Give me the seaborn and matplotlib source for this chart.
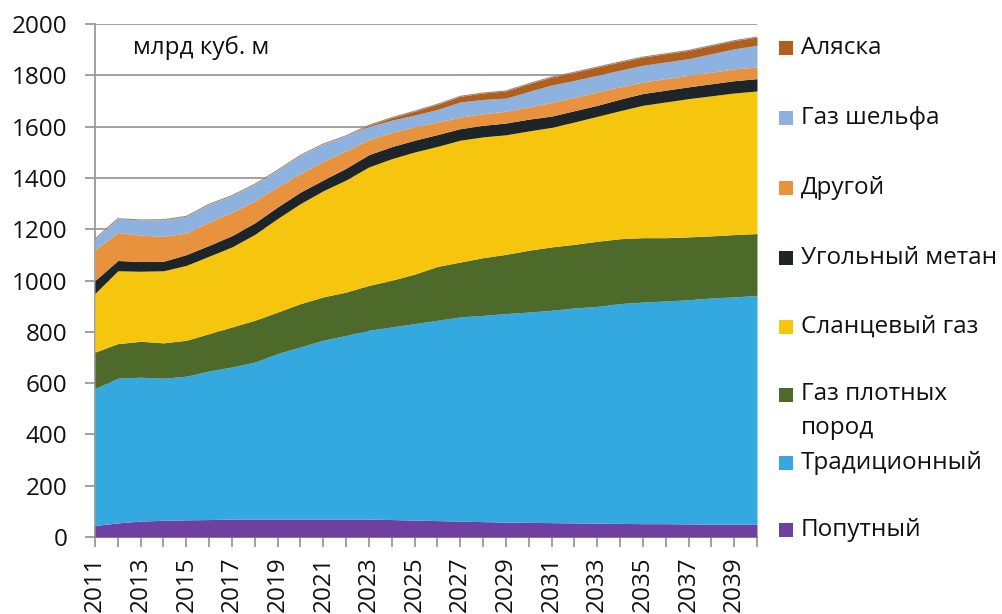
import numpy as np
import pandas as pd
import matplotlib
matplotlib.use("Agg")
import matplotlib.pyplot as plt
import seaborn as sns
from matplotlib.patches import Rectangle

# ---------------- data (млрд куб. м) ----------------
years = list(range(2011, 2041))

poputny = [45, 55, 62, 65, 67, 68, 70, 70, 70, 70, 70, 70, 70, 68, 66,
           64, 62, 60, 58, 57, 56, 55, 54, 53, 52, 52, 51, 50, 50, 50]
traditsionny = [534, 564, 561, 554, 560, 579, 593, 612, 645, 671, 697, 716, 736, 751, 766,
                781, 796, 804, 813, 820, 828, 838, 845, 857, 864, 868, 874, 882, 886, 892]
plotnye = [142, 135, 140, 138, 140, 146, 156, 163, 162, 169, 169, 169, 175, 182, 193,
           210, 214, 225, 231, 241, 247, 248, 254, 253, 251, 247, 245, 242, 243, 241]
slantsevy = [229, 284, 273, 281, 292, 302, 312, 335, 365, 390, 414, 437, 462, 474, 476,
             468, 475, 471, 466, 465, 466, 477, 487, 499, 516, 529, 539, 546, 552, 556]
ugolny = [50, 40, 38, 37, 42, 42, 44, 45, 45, 45, 42, 46, 48, 47, 46,
          46, 45, 45, 46, 46, 44, 44, 43, 45, 46, 46, 46, 47, 48, 48]
drugoy = [120, 109, 103, 97, 84, 91, 91, 85, 78, 72, 72, 68, 58, 55, 52,
          48, 45, 45, 46, 47, 53, 52, 52, 48, 45, 45, 45, 45, 46, 45]
shelf = [42, 54, 59, 65, 65, 69, 65, 65, 65, 71, 68, 58, 52, 48, 46,
         50, 59, 56, 51, 61, 68, 66, 65, 65, 65, 65, 65, 72, 78, 85]
alaska = [0, 0, 0, 0, 0, 0, 0, 0, 0, 0, 0, 0, 4, 10, 15,
          20, 22, 25, 28, 30, 31, 32, 32, 32, 32, 32, 32, 32, 32, 32]

series_names = ["Попутный", "Традиционный", "Газ плотных\nпород", "Сланцевый газ",
                "Угольный метан", "Другой", "Газ шельфа", "Аляска"]
series_colors = ["#7040A0", "#33A9E0", "#4E6A2A", "#F6C60F",
                 "#1E2528", "#E8923D", "#8EB2E0", "#B0601C"]
unit_label = "млрд куб. м"

df = pd.DataFrame(dict(zip(series_names,
                           [poputny, traditsionny, plotnye, slantsevy,
                            ugolny, drugoy, shelf, alaska])), index=years)

# ---------------- style ----------------
sns.set_style("white")
plt.rcParams['font.family'] = ['Open Sans', 'DejaVu Sans']
FS = 17.5
TXT = "#111111"
W, H = 1003, 614

fig = plt.figure(figsize=(W / 100, H / 100), dpi=100)
ax = fig.add_axes([95 / W, 1 - 537 / H, (757 - 95) / W, (537 - 24) / H])

ax.stackplot(df.index, df.T.values, colors=series_colors, linewidth=0, zorder=3)
ax.plot(df.index, df.sum(axis=1).values, color="#9a8a7a", lw=0.8, zorder=4)

ax.set_xlim(2011, 2040)
ax.set_ylim(0, 2000)
ax.set_yticks(range(0, 2001, 200))
ax.yaxis.grid(True, color="#9a9a9a", lw=1.3, zorder=0)
ax.xaxis.grid(False)
ax.set_axisbelow(True)

ax.set_xticks(years)
ax.set_xticklabels([str(y) if (y - 2011) % 2 == 0 else "" for y in years],
                   rotation=90, fontsize=FS, color=TXT, fontweight=500)
ax.tick_params(axis="x", length=7, width=1.3, color="#9a9a9a", pad=7, bottom=True)
ax.tick_params(axis="y", length=7, width=1.3, color="#9a9a9a", pad=13,
               labelsize=FS, labelcolor=TXT, left=True)
for lbl in ax.get_yticklabels():
    lbl.set_fontweight(500)

for s in ["top", "right"]:
    ax.spines[s].set_visible(False)
for s in ["left", "bottom"]:
    ax.spines[s].set_color("#9a9a9a")
    ax.spines[s].set_linewidth(1.3)

ax.text((133 - 95) / (757 - 95), (537 - 48) / (537 - 24), unit_label,
        transform=ax.transAxes, fontsize=FS, va="center", ha="left",
        color=TXT, fontweight=500)

# ---------------- legend (right side) ----------------
legend_rows = [("Аляска", 48), ("Газ шельфа", 118), ("Другой", 188),
               ("Угольный метан", 258), ("Сланцевый газ", 327),
               ("Газ плотных\nпород", 395), ("Традиционный", 463), ("Попутный", 530)]
name_to_color = dict(zip(series_names, series_colors))
sq = 14
for label, yc in legend_rows:
    col = name_to_color[label]
    fig.patches.append(Rectangle((779 / W, 1 - (yc + sq / 2) / H), sq / W, sq / H,
                                 transform=fig.transFigure, facecolor=col,
                                 edgecolor="none"))
    if "\n" in label:
        fig.text(801 / W, 1 - (yc - 13) / H, label, fontsize=FS, va="top",
                 ha="left", color=TXT, linespacing=1.55, fontweight=500)
    else:
        fig.text(801 / W, 1 - yc / H, label, fontsize=FS, va="center",
                 ha="left", color=TXT, fontweight=500)

fig.savefig("out.png", dpi=100, facecolor="white")
